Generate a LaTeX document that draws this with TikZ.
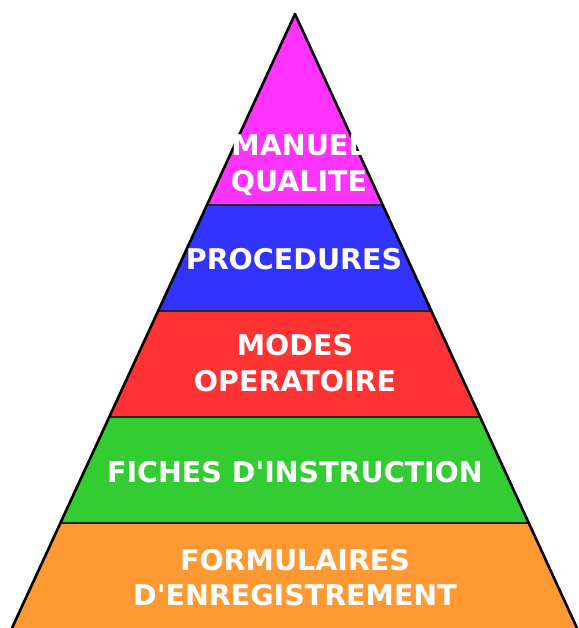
\documentclass[tikz,border=0pt]{standalone}
\usepackage{fontspec}
\setsansfont{DejaVu Sans}
\usetikzlibrary{calc}

\definecolor{tiermagenta}{HTML}{FF33FF}
\definecolor{tierblue}{HTML}{3333FF}
\definecolor{tierred}{HTML}{FF3333}
\definecolor{tiergreen}{HTML}{33CC33}
\definecolor{tierorange}{HTML}{FF9933}

\tikzset{divider/.style = {draw=black!85, line width=1.1pt}}
\tikzset{outline/.style = {draw=black, line width=2.6pt, line join=round}}
\tikzset{tiertext/.style = {text=white, align=center, inner sep=0pt,
    font=\sffamily\bfseries\fontsize{28.5}{35.5}\selectfont}}

\begin{document}
\begin{tikzpicture}[x=1pt, y=-1pt]
          \useasboundingbox (0,0) rectangle (578,628);
          \coordinate (top) at (295,14);
          \coordinate (bl) at (12,628);
          \coordinate (br) at (577,628);

          % levels cut along both sides
          \coordinate (l1) at ($(top)!0.311!(bl)$);
          \coordinate (r1) at ($(top)!0.311!(br)$);
          \coordinate (l2) at ($(top)!0.4837!(bl)$);
          \coordinate (r2) at ($(top)!0.4837!(br)$);
          \coordinate (l3) at ($(top)!0.6564!(bl)$);
          \coordinate (r3) at ($(top)!0.6564!(br)$);
          \coordinate (l4) at ($(top)!0.829!(bl)$);
          \coordinate (r4) at ($(top)!0.829!(br)$);

          \fill[tiermagenta] (top) -- (r1) -- (l1) -- cycle;
          \fill[tierblue] (l1) -- (r1) -- (r2) -- (l2) -- cycle;
          \fill[tierred] (l2) -- (r2) -- (r3) -- (l3) -- cycle;
          \fill[tiergreen] (l3) -- (r3) -- (r4) -- (l4) -- cycle;
          \fill[tierorange] (l4) -- (r4) -- (br) -- (bl) -- cycle;

          \draw[divider] (l1) -- (r1);
          \draw[divider] (l2) -- (r2);
          \draw[divider] (l3) -- (r3);
          \draw[divider] (l4) -- (r4);
          \draw[outline] (bl) -- (top) -- (br);

          \node[tiertext] (manuel) at (299,165) {MANUEL\\QUALITE};
          \node[tiertext] (procedures) at (294,259.5) {PROCEDURES};
          \node[tiertext] (modes) at (295,363) {MODES\\OPERATOIRE};
          \node[tiertext] (fiches) at (295,472.5) {FICHES D\textquotesingle INSTRUCTION};
          \node[tiertext] (formulaires) at (295,577.5) {FORMULAIRES\\D\textquotesingle ENREGISTREMENT};
        \end{tikzpicture}
\end{document}
